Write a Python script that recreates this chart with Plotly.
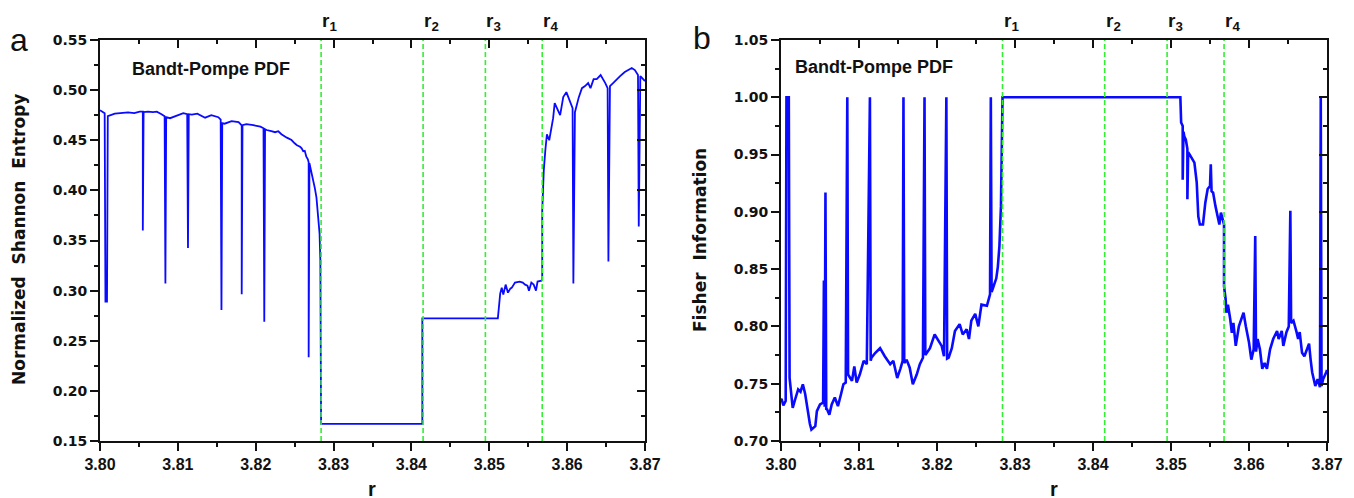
import plotly.graph_objects as go

# ---------------- data ----------------
r_marks = [3.8284, 3.8415, 3.8495, 3.8568]
r_mark_labels = ["r<sub>1</sub>", "r<sub>2</sub>", "r<sub>3</sub>", "r<sub>4</sub>"]

r_entropy = [
    3.8000, 3.8004, 3.8006, 3.8007, 3.8009, 3.8010, 3.8013, 3.8019, 3.8026, 3.8036,
    3.8044, 3.8051, 3.8055, 3.8055, 3.8056, 3.8062, 3.8068, 3.8073, 3.8079, 3.8083,
    3.8084, 3.8085, 3.8090, 3.8098, 3.8107, 3.8112, 3.8113, 3.8114, 3.8118, 3.8125,
    3.8131, 3.8135, 3.8143, 3.8152, 3.8155, 3.8156, 3.8157, 3.8160, 3.8169, 3.8178,
    3.8182, 3.8182, 3.8183, 3.8188, 3.8197, 3.8206, 3.8210, 3.8211, 3.8212, 3.8214,
    3.8220, 3.8225, 3.8229, 3.8233, 3.8240, 3.8246, 3.8250, 3.8253, 3.8257, 3.8259,
    3.8261, 3.8263, 3.8265, 3.8267, 3.8268, 3.8268, 3.8269, 3.8272, 3.8274, 3.8276,
    3.8278, 3.8280, 3.8282, 3.8283, 3.8284, 3.8414, 3.8414, 3.8511, 3.8512, 3.8514,
    3.8516, 3.8518, 3.8521, 3.8524, 3.8527, 3.8529, 3.8533, 3.8539, 3.8543, 3.8546,
    3.8549, 3.8551, 3.8554, 3.8557, 3.8560, 3.8562, 3.8567, 3.8568, 3.8568, 3.8569,
    3.8570, 3.8572, 3.8574, 3.8577, 3.8582, 3.8584, 3.8591, 3.8595, 3.8599, 3.8601,
    3.8607, 3.8608, 3.8610, 3.8615, 3.8619, 3.8623, 3.8627, 3.8630, 3.8634, 3.8638,
    3.8643, 3.8649, 3.8652, 3.8653, 3.8655, 3.8659, 3.8665, 3.8668, 3.8674, 3.8679,
    3.8683, 3.8687, 3.8691, 3.8692, 3.8694, 3.8700,
]
h_entropy = [
    0.480, 0.4785, 0.477, 0.289, 0.289, 0.474, 0.475, 0.4765, 0.477, 0.4778,
    0.477, 0.4785, 0.4785, 0.360, 0.478, 0.4785, 0.478, 0.4785, 0.476, 0.474,
    0.307, 0.473, 0.472, 0.474, 0.477, 0.476, 0.3425, 0.476, 0.4755, 0.4765,
    0.474, 0.4725, 0.475, 0.473, 0.4705, 0.2807, 0.467, 0.4665, 0.469, 0.468,
    0.4648, 0.2964, 0.465, 0.466, 0.465, 0.4635, 0.462, 0.269, 0.461, 0.4602,
    0.459, 0.458, 0.459, 0.456, 0.4526, 0.4502, 0.447, 0.445, 0.4435, 0.442,
    0.439, 0.4395, 0.4336, 0.431, 0.428, 0.2335, 0.427, 0.417, 0.410, 0.402,
    0.393, 0.377, 0.357, 0.330, 0.167, 0.167, 0.2724, 0.2724, 0.283, 0.297,
    0.303, 0.296, 0.306, 0.298, 0.302, 0.303, 0.308, 0.309, 0.308, 0.306,
    0.305, 0.300, 0.308, 0.306, 0.300, 0.309, 0.310, 0.311, 0.380, 0.410,
    0.420, 0.440, 0.456, 0.450, 0.472, 0.487, 0.475, 0.493, 0.498, 0.494,
    0.482, 0.307, 0.478, 0.493, 0.502, 0.504, 0.507, 0.502, 0.511, 0.511,
    0.515, 0.507, 0.502, 0.329, 0.504, 0.507, 0.512, 0.514, 0.518, 0.520,
    0.522, 0.520, 0.515, 0.364, 0.514, 0.509,
]

r_fisher = [
    3.8000, 3.8001, 3.8003, 3.8005, 3.8006, 3.8007, 3.8010, 3.8011, 3.8012, 3.8015,
    3.8018, 3.8022, 3.8025, 3.8028, 3.8031, 3.8035, 3.8037, 3.8039, 3.8042, 3.8044,
    3.8046, 3.8050, 3.8054, 3.8055, 3.8056, 3.8057, 3.8058, 3.8059, 3.8062, 3.8065,
    3.8069, 3.8073, 3.8077, 3.8080, 3.8083, 3.8085, 3.8086, 3.8091, 3.8094, 3.8097,
    3.8101, 3.8106, 3.8110, 3.8114, 3.8115, 3.8116, 3.8121, 3.8127, 3.8133, 3.8140,
    3.8144, 3.8149, 3.8153, 3.8156, 3.8157, 3.8158, 3.8161, 3.8165, 3.8169, 3.8174,
    3.8178, 3.8182, 3.8184, 3.8185, 3.8187, 3.8191, 3.8197, 3.8202, 3.8206, 3.8209,
    3.8212, 3.8213, 3.8215, 3.8219, 3.8223, 3.8229, 3.8233, 3.8238, 3.8241, 3.8244,
    3.8249, 3.8253, 3.8257, 3.8264, 3.8268, 3.8269, 3.8270, 3.8272, 3.8276, 3.8278,
    3.8280, 3.8282, 3.8283, 3.8284, 3.8512, 3.8513, 3.8515, 3.8515, 3.8516, 3.8517,
    3.8519, 3.8521, 3.8521, 3.8522, 3.8524, 3.8527, 3.8530, 3.8533, 3.8535, 3.8537,
    3.8541, 3.8544, 3.8547, 3.8550, 3.8551, 3.8552, 3.8554, 3.8557, 3.8560, 3.8562,
    3.8564, 3.8567, 3.8568, 3.8568, 3.8570, 3.8571, 3.8573, 3.8576, 3.8578, 3.8580,
    3.8583, 3.8587, 3.8590, 3.8593, 3.8596, 3.8600, 3.8603, 3.8606, 3.8608, 3.8609,
    3.8611, 3.8614, 3.8617, 3.8620, 3.8623, 3.8627, 3.8631, 3.8636, 3.8638, 3.8642,
    3.8644, 3.8648, 3.8651, 3.8653, 3.8654, 3.8657, 3.8661, 3.8663, 3.8665, 3.8668,
    3.8671, 3.8674, 3.8677, 3.8679, 3.8681, 3.8685, 3.8688, 3.8691, 3.8692, 3.8693,
    3.8695, 3.8699, 3.8700,
]
f_fisher = [
    0.737, 0.736, 0.731, 0.733, 0.735, 1.000, 1.000, 0.755, 0.748, 0.729,
    0.736, 0.745, 0.743, 0.7495, 0.741, 0.723, 0.715, 0.710, 0.712, 0.713,
    0.726, 0.732, 0.7334, 0.840, 0.730, 0.917, 0.728, 0.7277, 0.723, 0.732,
    0.738, 0.7305, 0.741, 0.7495, 0.751, 1.000, 0.758, 0.7525, 0.765, 0.751,
    0.758, 0.770, 0.767, 1.000, 0.770, 0.7727, 0.777, 0.781, 0.774, 0.767,
    0.770, 0.755, 0.763, 0.770, 1.000, 0.768, 0.771, 0.764, 0.7495, 0.758,
    0.767, 0.7727, 1.000, 0.775, 0.777, 0.781, 0.793, 0.787, 0.783, 0.774,
    1.000, 0.772, 0.7727, 0.781, 0.796, 0.802, 0.793, 0.7975, 0.789, 0.805,
    0.811, 0.800, 0.819, 0.818, 0.828, 1.000, 0.830, 0.834, 0.842, 0.852,
    0.870, 0.905, 0.950, 1.000, 1.000, 0.978, 0.975, 0.928, 0.970, 0.966,
    0.963, 0.955, 0.911, 0.952, 0.950, 0.947, 0.943, 0.9255, 0.896, 0.889,
    0.889, 0.908, 0.920, 0.9226, 0.9415, 0.918, 0.9167, 0.905, 0.8964, 0.889,
    0.8993, 0.8905, 0.889, 0.835, 0.824, 0.812, 0.819, 0.806, 0.7945, 0.803,
    0.783, 0.800, 0.806, 0.812, 0.800, 0.786, 0.771, 0.780, 0.879, 0.778,
    0.789, 0.780, 0.763, 0.768, 0.763, 0.780, 0.789, 0.796, 0.789, 0.796,
    0.783, 0.795, 0.800, 0.901, 0.803, 0.805, 0.795, 0.789, 0.795, 0.777,
    0.774, 0.780, 0.785, 0.771, 0.760, 0.748, 0.754, 0.747, 1.000, 0.748,
    0.754, 0.760, 0.762,
]

x_range = [3.80, 3.87]
y_range_a = [0.15, 0.55]
y_range_b = [0.70, 1.05]

# ---------------- figure ----------------
W, H = 1354, 498
BLUE = "#0a0aff"
GREEN = "#33ee33"
BLACK = "#111111"

dom_xa = [100 / W, 645 / W]
dom_xb = [781 / W, 1327 / W]
dom_y = [1 - 441 / H, 1 - 40 / H]

fig = go.Figure()
fig.add_trace(go.Scatter(x=r_entropy, y=h_entropy, mode="lines",
                         line=dict(color=BLUE, width=1.8), xaxis="x", yaxis="y",
                         showlegend=False, hoverinfo="skip"))
fig.add_trace(go.Scatter(x=r_fisher, y=f_fisher, mode="lines",
                         line=dict(color=BLUE, width=2.6), xaxis="x2", yaxis="y2",
                         showlegend=False, hoverinfo="skip"))
# dummy traces to activate the mirrored (top / right) axes
fig.add_trace(go.Scatter(x=[None], y=[None], xaxis="x3", yaxis="y3", showlegend=False, hoverinfo="skip"))
fig.add_trace(go.Scatter(x=[None], y=[None], xaxis="x4", yaxis="y4", showlegend=False, hoverinfo="skip"))

xtickfont = dict(family="Liberation Sans, Arial", size=16, color=BLACK, weight="bold")
ytickfont = dict(family="DejaVu Sans", size=14, color=BLACK, weight="bold")


def main_x(domain, anchor):
    return dict(domain=domain, range=x_range, anchor=anchor, showgrid=False, zeroline=False,
                showline=True, linecolor=BLACK, linewidth=2, ticks="outside", ticklen=8,
                tickwidth=2, tickcolor=BLACK, dtick=0.01, tick0=3.80, tickformat=".2f",
                tickfont=xtickfont, automargin=False,
                minor=dict(ticks="outside", ticklen=4, tickwidth=2, tickcolor=BLACK, dtick=0.005))


def main_y(domain, anchor, rng):
    return dict(domain=domain, range=rng, anchor=anchor, showgrid=False, zeroline=False,
                showline=True, linecolor=BLACK, linewidth=2, ticks="outside", ticklen=8,
                tickwidth=2, tickcolor=BLACK, dtick=0.05, tick0=0.0, tickformat=".2f",
                tickfont=ytickfont, automargin=False,
                minor=dict(ticks="outside", ticklen=4, tickwidth=2, tickcolor=BLACK, dtick=0.025))


def mirror_x(over, anchor):
    return dict(overlaying=over, range=x_range, anchor=anchor, side="top", showgrid=False,
                zeroline=False, showline=True, linecolor=BLACK, linewidth=2, ticks="inside",
                ticklen=8, tickwidth=2, tickcolor=BLACK, dtick=0.01, tick0=3.80,
                showticklabels=False, automargin=False,
                minor=dict(ticks="inside", ticklen=4, tickwidth=2, tickcolor=BLACK, dtick=0.005))


def mirror_y(over, anchor, rng):
    return dict(overlaying=over, range=rng, anchor=anchor, side="right", showgrid=False,
                zeroline=False, showline=True, linecolor=BLACK, linewidth=2, ticks="inside",
                ticklen=8, tickwidth=2, tickcolor=BLACK, dtick=0.05, tick0=0.0,
                showticklabels=False, automargin=False,
                minor=dict(ticks="inside", ticklen=4, tickwidth=2, tickcolor=BLACK, dtick=0.025))


fig.update_layout(
    width=W, height=H,
    margin=dict(l=0, r=0, t=0, b=0),
    paper_bgcolor="white", plot_bgcolor="white",
    xaxis=main_x(dom_xa, "y"),
    yaxis=main_y(dom_y, "x", y_range_a),
    xaxis2=main_x(dom_xb, "y2"),
    yaxis2=main_y(dom_y, "x2", y_range_b),
    xaxis3=mirror_x("x", "y3"),
    yaxis3=mirror_y("y", "x3", y_range_a),
    xaxis4=mirror_x("x2", "y4"),
    yaxis4=mirror_y("y2", "x4", y_range_b),
)

shapes = []
annotations = []
for xref, yref, dx in (("x", "y domain", dom_xa), ("x2", "y2 domain", dom_xb)):
    for rv, lab in zip(r_marks, r_mark_labels):
        shapes.append(dict(type="line", xref=xref, yref=yref, x0=rv, x1=rv, y0=0, y1=1,
                           line=dict(color=GREEN, width=1.6, dash="5px,3px"), layer="above"))
        annotations.append(dict(xref=xref, yref="paper", x=rv, y=1 - 22 / H, text=lab,
                                showarrow=False, xanchor="left", yanchor="middle", xshift=-1,
                                font=dict(family="Liberation Sans, Arial", size=19, color=BLACK,
                                          weight="bold")))

title_font = dict(family="Liberation Sans, Arial", size=18, color=BLACK, weight="bold")
ylab_font = dict(family="DejaVu Sans", size=17, color=BLACK, weight="bold")
annotations += [
    dict(xref="paper", yref="paper", x=130 / W, y=1 - 69 / H, text="Bandt-Pompe PDF",
         showarrow=False, xanchor="left", yanchor="middle", font=title_font),
    dict(xref="paper", yref="paper", x=793 / W, y=1 - 67 / H, text="Bandt-Pompe PDF",
         showarrow=False, xanchor="left", yanchor="middle", font=title_font),
    dict(xref="paper", yref="paper", x=19 / W, y=1 - 240 / H, text="Normalized  Shannon  Entropy",
         textangle=-90, showarrow=False, xanchor="center", yanchor="middle", font=ylab_font),
    dict(xref="paper", yref="paper", x=700 / W, y=1 - 240 / H, text="Fisher  Information",
         textangle=-90, showarrow=False, xanchor="center", yanchor="middle", font=ylab_font),
    dict(xref="paper", yref="paper", x=372 / W, y=1 - 489 / H, text="r",
         showarrow=False, xanchor="center", yanchor="middle",
         font=dict(family="Liberation Sans, Arial", size=20, color=BLACK, weight="bold")),
    dict(xref="paper", yref="paper", x=1054 / W, y=1 - 489 / H, text="r",
         showarrow=False, xanchor="center", yanchor="middle",
         font=dict(family="Liberation Sans, Arial", size=20, color=BLACK, weight="bold")),
    dict(xref="paper", yref="paper", x=19 / W, y=1 - 40 / H, text="a",
         showarrow=False, xanchor="center", yanchor="middle",
         font=dict(family="Liberation Sans, Arial", size=32, color=BLACK)),
    dict(xref="paper", yref="paper", x=702 / W, y=1 - 38 / H, text="b",
         showarrow=False, xanchor="center", yanchor="middle",
         font=dict(family="Liberation Sans, Arial", size=32, color=BLACK)),
]
fig.update_layout(shapes=shapes, annotations=annotations)

fig.write_html("out.html")
